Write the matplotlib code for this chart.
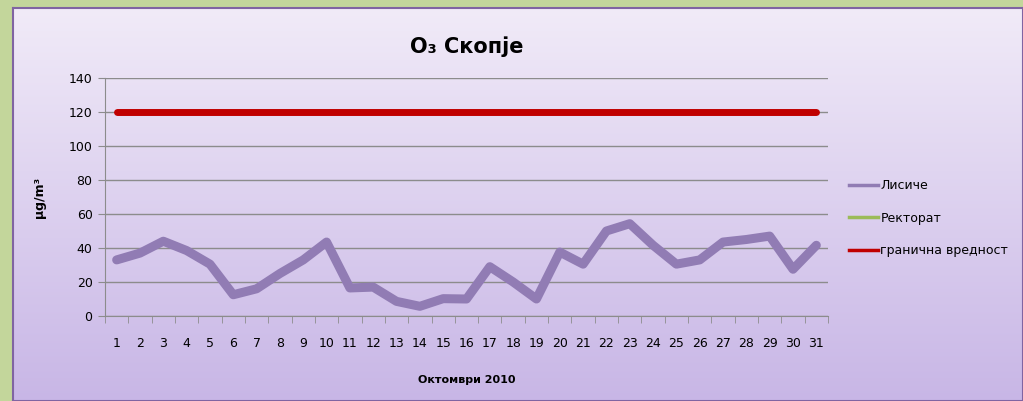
import numpy as np
import matplotlib
matplotlib.use("Agg")
import matplotlib.pyplot as plt
from matplotlib.lines import Line2D

days = list(range(1, 32))
lisice = [33, 37, 44, 38.5, 30.5, 12.5, 16, 25, 33, 43.5, 16.5, 17, 8.6, 5.7, 10.2,
          10, 29, 20, 10, 37.6, 30.5, 50, 54.3, 41.6, 30.5, 33, 43.5, 45, 47, 27.5, 41.6]
rektorat = []
limit_value = 120
yticks = [0, 20, 40, 60, 80, 100, 120, 140]

title = "O\u2083 Скопје"
xlabel = "Октомври 2010"
ylabel = "\u00b5g/m\u00b3"
series_names = ["Лисиче", "Ректорат", "гранична вредност"]

plt.rcParams['font.family'] = ['DejaVu Sans']

W, H = 1023, 401
fig = plt.figure(figsize=(W / 100, H / 100), dpi=100)
fig.patch.set_facecolor('#C3D69B')

# gradient panel
bg = fig.add_axes([13 / W, 0, 1 - 13 / W, (H - 8) / H], zorder=0)
top = np.array([0xF1, 0xEB, 0xF8]) / 255
bot = np.array([0xC8, 0xB6, 0xE6]) / 255
t = np.linspace(0, 1, 256)[:, None]
grad = (top[None, :] * (1 - t) + bot[None, :] * t)[:, None, :]
bg.imshow(grad, aspect='auto', extent=[0, 1, 0, 1], origin='upper')
bg.set_xticks([]); bg.set_yticks([])
for s in bg.spines.values():
    s.set_color('#8064A2'); s.set_linewidth(1.5)

ax = fig.add_axes([105 / W, (H - 316) / H, (828 - 105) / W, (316 - 78) / H], zorder=1)
ax.set_facecolor('none')

ax.plot(days, lisice, color='#917CB4', lw=6.5, solid_joinstyle='round', solid_capstyle='round', zorder=3)
ax.plot(days, rektorat + [np.nan] * len(days), color='#9BBB59', lw=6, zorder=3)
ax.plot(days, [limit_value] * len(days), color='#C00000', lw=5, solid_capstyle='round', zorder=3)

ax.set_xlim(0.5, 31.5)
ax.set_ylim(0, 140)
ax.set_yticks(yticks)
ax.set_xticks(days)
ax.set_xticklabels([str(d) for d in days])
ax.set_xticks(np.arange(0.5, 32, 1), minor=True)
ax.tick_params(axis='x', which='major', length=0, pad=15, labelsize=9)
ax.tick_params(axis='x', which='minor', length=5, color='#8C8C8C', direction='out')
ax.tick_params(axis='y', length=5, color='#8C8C8C', labelsize=9, pad=4)
ax.grid(axis='y', color='#8C8C8C', lw=1)
ax.set_axisbelow(True)
for k in ['top', 'right']:
    ax.spines[k].set_visible(False)
for k in ['left', 'bottom']:
    ax.spines[k].set_color('#8C8C8C')

ax.set_title(title, fontsize=15, fontweight='bold', pad=18)
ax.set_xlabel(xlabel, fontsize=8, fontweight='bold', labelpad=18)
ax.set_ylabel(ylabel, fontsize=9, fontweight='bold', labelpad=16)

handles = [Line2D([], [], color='#917CB4', lw=2.5),
           Line2D([], [], color='#9BBB59', lw=2.5),
           Line2D([], [], color='#C00000', lw=2.5)]
fig.legend(handles, series_names, loc='upper left', bbox_to_anchor=(838 / W, 1 - 168 / H),
           frameon=False, fontsize=9, handlelength=2.3, handletextpad=0.2, labelspacing=1.55)

fig.savefig('out.png', dpi=100)
